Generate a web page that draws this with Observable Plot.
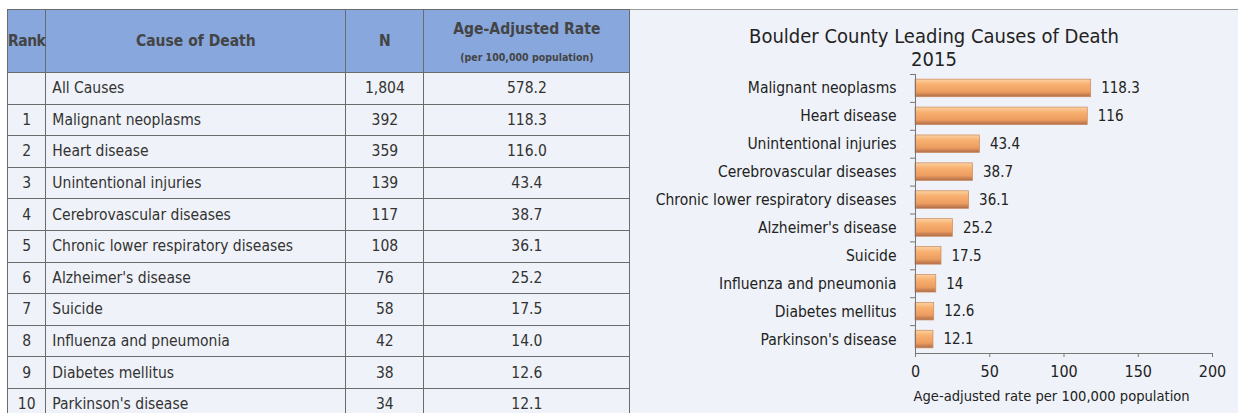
<!DOCTYPE html>
<html>
<head>
<meta charset="utf-8">
<script src="https://cdn.jsdelivr.net/npm/d3@7"></script>
<script src="https://cdn.jsdelivr.net/npm/@observablehq/plot@0.6"></script>
<style>
  html, body { margin: 0; padding: 0; background: #ffffff; }
  body { width: 1238px; height: 413px; position: relative; overflow: hidden; }
  #tbl { position: absolute; left: 7px; top: 9px; border-collapse: collapse;
         font-family: "DejaVu Sans Condensed", "DejaVu Sans", sans-serif; font-stretch: condensed;
         font-size: 15.5px; color: #333; background: #eff2f8; table-layout: fixed; }
  #tbl td, #tbl th { border: 1px solid #6b6b6b; padding: 0; height: 30.6px; }
  #tbl th { background: #87a7dd; color: #444; font-weight: bold; height: 62px; font-size: 15.5px; }
  #tbl th.rate { vertical-align: top; padding-top: 10px; height: 52px; }
  #tbl td.c { text-align: center; }
  #tbl td.l { text-align: left; padding-left: 6px; }
  #tbl .sub { display: block; font-size: 10.5px; font-weight: bold; margin-top: 13px; }
  #panel { position: absolute; left: 630px; top: 9px; width: 608px; height: 404px;
           background: #eff2f8; border-top: 1px solid #9a9a9a; }
  #title { position: absolute; left: 0; top: 15px; width: 608px; text-align: center;
           font-family: "DejaVu Sans Condensed", "DejaVu Sans", sans-serif; font-stretch: condensed;
           font-size: 20px; line-height: 23px; color: #222; }
  #chart { position: absolute; left: 0; top: 60px; }
</style>
</head>
<body>
<table id="tbl"></table>
<div id="panel">
  <div id="title">Boulder County Leading Causes of Death<br>2015</div>
  <div id="chart"></div>
</div>
<script>
const headers = ["Rank", "Cause of Death", "N", "Age-Adjusted Rate"];
const rateSubheader = "(per 100,000 population)";
const ranks = ["", "1", "2", "3", "4", "5", "6", "7", "8", "9", "10"];
const causes = ["All Causes", "Malignant neoplasms", "Heart disease", "Unintentional injuries",
  "Cerebrovascular diseases", "Chronic lower respiratory diseases", "Alzheimer's disease",
  "Suicide", "Influenza and pneumonia", "Diabetes mellitus", "Parkinson's disease"];
const counts = ["1,804", "392", "359", "139", "117", "108", "76", "58", "42", "38", "34"];
const rates = [578.2, 118.3, 116.0, 43.4, 38.7, 36.1, 25.2, 17.5, 14.0, 12.6, 12.1];

const chartTitle = "Boulder County Leading Causes of Death";
const xLabel = "Age-adjusted rate per 100,000 population";
const xTicks = [0, 50, 100, 150, 200];

// ---- table ----
const tbl = document.getElementById("tbl");
const colWidths = [38, 300, 78, 206];
const cg = document.createElement("colgroup");
colWidths.forEach(w => { const c = document.createElement("col"); c.style.width = w + "px"; cg.appendChild(c); });
tbl.appendChild(cg);
const hr = document.createElement("tr");
headers.forEach((h, i) => {
  const th = document.createElement("th");
  th.textContent = h;
  if (i === 0) th.style.letterSpacing = "-0.5px";
  if (i === 3) {
    th.className = "rate";
    const s = document.createElement("span"); s.className = "sub"; s.textContent = rateSubheader; th.appendChild(s);
  }
  hr.appendChild(th);
});
tbl.appendChild(hr);
causes.forEach((c, i) => {
  const tr = document.createElement("tr");
  [[ranks[i], "c"], [c, "l"], [counts[i], "c"], [rates[i].toFixed(1), "c"]].forEach(([t, cls]) => {
    const td = document.createElement("td"); td.className = cls; td.textContent = t; tr.appendChild(td);
  });
  tbl.appendChild(tr);
});

// ---- chart ----
const data = causes.slice(1).map((c, i) => ({cause: c, rate: rates[i + 1]}));
const font = '"DejaVu Sans Condensed", "DejaVu Sans", sans-serif';
const plot = Plot.plot({
  width: 608,
  height: 344,
  marginTop: 4,
  marginBottom: 61,
  marginLeft: 285,
  marginRight: 26,
  style: {background: "transparent", fontFamily: font, fontSize: "14px", color: "#222", fontStretch: "condensed"},
  x: {domain: [0, 200], ticks: xTicks, label: null},
  y: {domain: data.map(d => d.cause), paddingInner: 0.37, paddingOuter: 0.185, round: false, label: null},
  marks: [
    Plot.barX(data, {x: "rate", y: "cause", fill: "url(#barGrad)", stroke: "#c98a5e", strokeWidth: 0.7}),
    Plot.text(data, {x: "rate", y: "cause", text: d => String(d.rate), dx: 10, textAnchor: "start", fontSize: 15, fill: "#222"}),
    Plot.axisY({tickSize: 0, tickPadding: 19, fontSize: 15.5, fill: "#222"}),
    Plot.axisY({tickSize: 5, text: null, dy: -13.95, stroke: "#777"}),
    Plot.ruleX([0], {stroke: "#777"}),
    Plot.frame({anchor: "bottom", stroke: "#777"}),
    Plot.axisX({ticks: xTicks, tickSize: 4, tickPadding: 8, fontSize: 16, fill: "#222", stroke: "#777", label: null}),
    Plot.text([xLabel], {frameAnchor: "bottom-left", dx: -2, dy: 47, textAnchor: "start", fontSize: 14.6, fill: "#222"})
  ]
});
const svg = d3.select(plot);
const defs = svg.insert("defs", ":first-child");
const g = defs.append("linearGradient").attr("id", "barGrad").attr("x1", 0).attr("y1", 0).attr("x2", 0).attr("y2", 1);
[["0%", "#fcd2a2"], ["30%", "#f8b070"], ["72%", "#ec9d60"], ["100%", "#b06c48"]].forEach(([o, c]) =>
  g.append("stop").attr("offset", o).attr("stop-color", c));
document.getElementById("chart").appendChild(plot);
</script>
</body>
</html>
